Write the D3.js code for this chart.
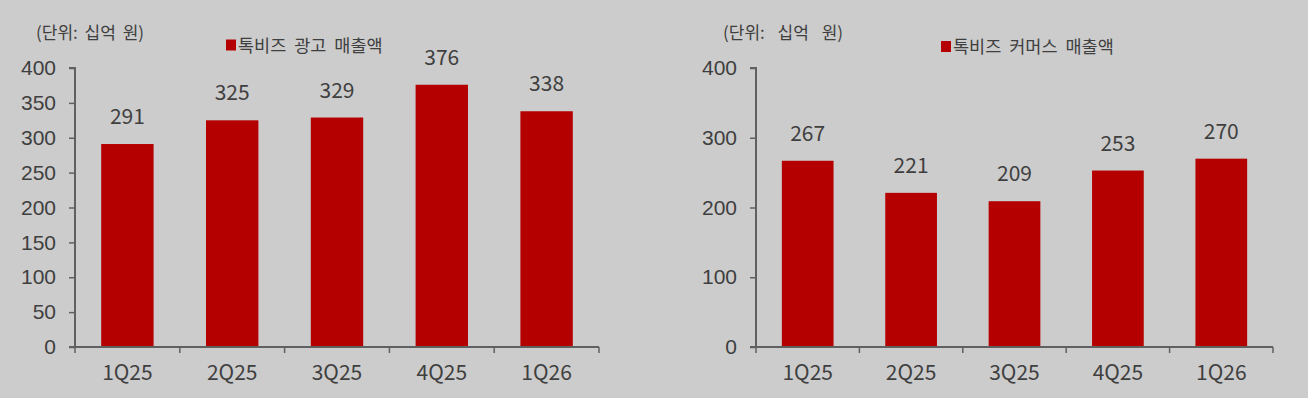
<!DOCTYPE html>
<html>
<head>
<meta charset="utf-8">
<script src="https://cdn.jsdelivr.net/npm/d3@7"></script>
<style>
  body { margin: 0; background: #cccccc; }
  svg { display: block; font-family: "Noto Sans CJK KR", "Noto Sans", sans-serif; }
</style>
</head>
<body>
<svg id="chart" width="1308" height="398"></svg>
<script>
// data
var quarters = ["1Q25", "2Q25", "3Q25", "4Q25", "1Q26"];
var adRevenue = [291, 325, 329, 376, 338];
var commerceRevenue = [267, 221, 209, 253, 270];
var adTicks = [0, 50, 100, 150, 200, 250, 300, 350, 400];
var commerceTicks = [0, 100, 200, 300, 400];
var unitLabel = "(단위: 십억 원)";
var adLegend = "톡비즈 광고 매출액";
var commerceLegend = "톡비즈 커머스 매출액";

var svg = d3.select("#chart");
var barColor = "#b50000";
var axisColor = "#606060";
var textColor = "#3f3f3f";

function drawPanel(opt) {
    var g = svg.append("g");
    var x = d3.scaleBand().domain(quarters).range([opt.x0, opt.x1]).paddingInner(0.5).paddingOuter(0.25);
    var y = d3.scaleLinear().domain([0, 400]).range([347, 68]);

    // bars
    g.selectAll("rect.bar")
        .data(opt.values)
        .enter()
        .append("rect")
        .attr("class", "bar")
        .attr("x", (d, i) => x(quarters[i]))
        .attr("y", d => y(d))
        .attr("width", x.bandwidth())
        .attr("height", d => y(0) - y(d))
        .attr("fill", barColor);

    // value labels
    g.selectAll("text.val")
        .data(opt.values)
        .enter()
        .append("text")
        .attr("class", "val")
        .attr("x", (d, i) => x(quarters[i]) + x.bandwidth() / 2)
        .attr("y", d => y(d) - 20)
        .attr("text-anchor", "middle")
        .attr("font-size", 21)
        .attr("fill", textColor)
        .text(d => d);

    // y axis
    var yAxis = d3.axisLeft(y).tickValues(opt.ticks).tickSize(6).tickPadding(13);
    var ya = g.append("g").attr("transform", "translate(" + opt.x0 + ",0)").call(yAxis);
    ya.select(".domain").attr("stroke", axisColor).attr("stroke-width", 2).attr("d", "M-6," + y(400) + "H0V" + y(0));
    ya.selectAll(".tick line").attr("stroke", axisColor).attr("stroke-width", 1.5);
    ya.selectAll(".tick text").attr("font-size", 21).attr("fill", textColor).attr("font-family", "inherit");

    // x axis with boundary ticks
    var xg = g.append("g");
    xg.append("line")
        .attr("x1", opt.x0 - 6).attr("x2", opt.x1)
        .attr("y1", y(0)).attr("y2", y(0))
        .attr("stroke", axisColor).attr("stroke-width", 2);
    var edges = d3.range(quarters.length + 1).map(i => opt.x0 + i * (opt.x1 - opt.x0) / quarters.length);
    xg.selectAll("line.xt")
        .data(edges)
        .enter()
        .append("line")
        .attr("class", "xt")
        .attr("x1", d => d).attr("x2", d => d)
        .attr("y1", y(0)).attr("y2", y(0) + 6)
        .attr("stroke", axisColor).attr("stroke-width", 1.5);
    xg.selectAll("text.xl")
        .data(quarters)
        .enter()
        .append("text")
        .attr("class", "xl")
        .attr("x", d => x(d) + x.bandwidth() / 2)
        .attr("y", 380)
        .attr("text-anchor", "middle")
        .attr("font-size", 21)
        .attr("fill", textColor)
        .text(d => d);

    // unit + legend
    g.append("text")
        .attr("x", opt.unitX).attr("y", 39)
        .attr("font-size", 17)
        .attr("word-spacing", opt.unitSpace)
        .attr("fill", textColor)
        .text(unitLabel);
    g.append("rect")
        .attr("x", opt.legX).attr("y", opt.legY - 5.5)
        .attr("width", 10).attr("height", 11)
        .attr("fill", barColor);
    g.append("text")
        .attr("x", opt.legX + 12).attr("y", opt.legY + 6.5)
        .attr("font-size", 17.5)
        .attr("word-spacing", 4)
        .attr("fill", textColor)
        .text(opt.legend);
}

drawPanel({ x0: 75, x1: 599, values: adRevenue, ticks: adTicks, unitX: 36, unitSpace: 3, legX: 226, legY: 45, legend: adLegend });
drawPanel({ x0: 756, x1: 1273, values: commerceRevenue, ticks: commerceTicks, unitX: 723, unitSpace: 9, legX: 941, legY: 46.5, legend: commerceLegend });
</script>
</body>
</html>
